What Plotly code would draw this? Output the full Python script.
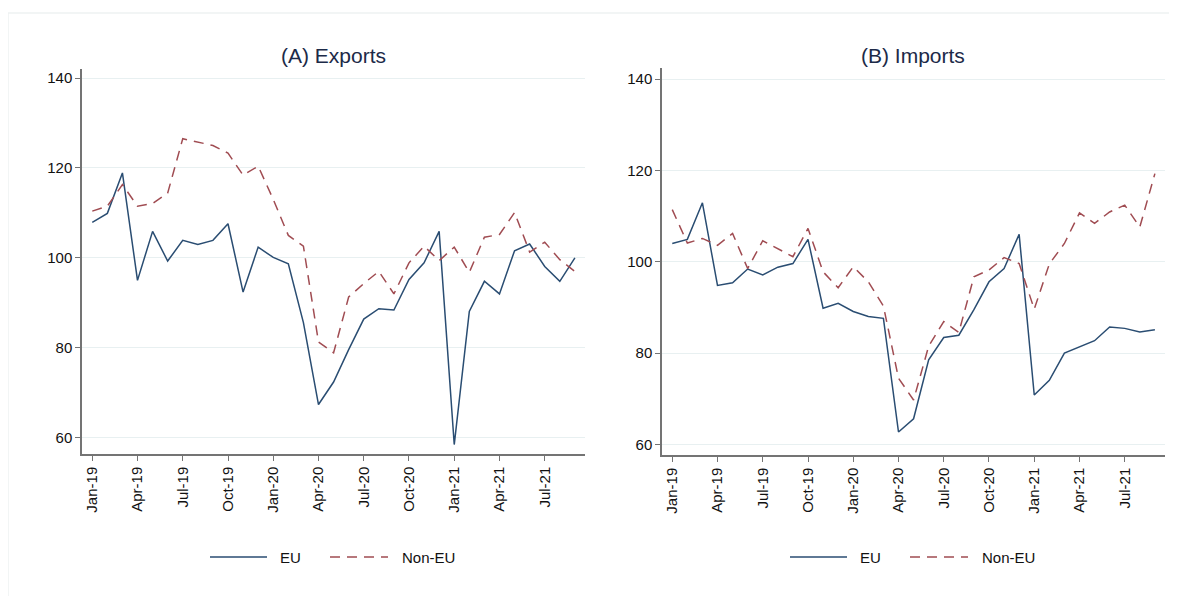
import plotly.graph_objects as go

months = ["Jan-19", "Feb-19", "Mar-19", "Apr-19", "May-19", "Jun-19", "Jul-19", "Aug-19", "Sep-19",
          "Oct-19", "Nov-19", "Dec-19", "Jan-20", "Feb-20", "Mar-20", "Apr-20", "May-20", "Jun-20",
          "Jul-20", "Aug-20", "Sep-20", "Oct-20", "Nov-20", "Dec-20", "Jan-21", "Feb-21", "Mar-21",
          "Apr-21", "May-21", "Jun-21", "Jul-21", "Aug-21", "Sep-21"]

exports_eu = [107.9, 109.9, 118.9, 95.0, 105.9, 99.3, 103.9, 103.0, 103.9, 107.6, 92.4, 102.4,
              100.1, 98.7, 85.6, 67.4, 72.4, 79.6, 86.4, 88.7, 88.4, 95.2, 98.9, 105.9,
              58.5, 88.1, 94.8, 92.0, 101.6, 103.1, 98.1, 94.8, 100.0]
exports_noneu = [110.4, 111.5, 116.3, 111.5, 112.1, 114.4, 126.5, 125.7, 125.0, 123.3, 118.4, 120.4,
                 113.0, 105.0, 102.6, 81.3, 78.9, 91.3, 94.3, 97.0, 92.0, 98.9, 102.6, 99.4,
                 102.4, 96.8, 104.6, 105.2, 110.1, 101.3, 103.5, 99.6, 97.0]
imports_eu = [104.0, 104.9, 112.9, 94.8, 95.4, 98.4, 97.1, 98.8, 99.6, 104.9, 89.8, 90.9,
              89.1, 88.0, 87.6, 62.7, 65.6, 78.5, 83.4, 83.9, 89.5, 95.6, 98.5, 106.0,
              70.8, 74.0, 80.0, 81.3, 82.7, 85.7, 85.4, 84.6, 85.1]
imports_noneu = [111.4, 104.1, 105.1, 103.6, 106.2, 98.5, 104.6, 102.9, 101.1, 107.3, 97.8, 94.3,
                 98.9, 95.6, 90.3, 74.5, 69.7, 81.5, 86.9, 84.5, 96.7, 98.2, 100.9, 99.6,
                 89.6, 99.5, 104.0, 110.7, 108.4, 110.9, 112.4, 107.6, 119.3]

series_names = ["EU", "Non-EU"]
y_ticks = [60, 80, 100, 120, 140]
x_idx = list(range(len(months)))
tick_idx = x_idx[::3]
tick_lab = months[::3]

EU_COLOR = "#2a4d72"
NONEU_COLOR = "#a04c52"
DASH = "10px,7px"
FONT = "Liberation Sans, Arial, sans-serif"

# page body has an 8px margin; figure placed at (8,8)
OFF = 8
W, H = 1169, 588
def px(x):
    return (x - OFF) / W
def py(y):
    return 1 - (y - OFF) / H

fig = go.Figure()

def add_pair(eu, noneu, xa, ya):
    fig.add_trace(go.Scatter(x=x_idx, y=eu, mode="lines", name=series_names[0],
                             line=dict(color=EU_COLOR, width=1.5),
                             xaxis=xa, yaxis=ya, showlegend=False))
    fig.add_trace(go.Scatter(x=x_idx, y=noneu, mode="lines", name=series_names[1],
                             line=dict(color=NONEU_COLOR, width=1.5, dash=DASH),
                             xaxis=xa, yaxis=ya, showlegend=False))

add_pair(exports_eu, exports_noneu, "x", "y")
add_pair(imports_eu, imports_noneu, "x2", "y2")

axis_common = dict(showline=True, linecolor="#747474", linewidth=1.5, ticks="outside",
                   ticklen=5, tickwidth=1.3, tickcolor="#747474", zeroline=False,
                   tickfont=dict(family=FONT, size=15, color="#111111"))

xcommon = dict(axis_common, tickvals=tick_idx, ticktext=tick_lab, tickangle=-90,
               range=[-0.68, 32.67], showgrid=False)
ycommon = dict(axis_common, tickvals=y_ticks, showgrid=True, gridcolor="#e8f0f1", gridwidth=1)

shapes = [
    dict(type="rect", xref="paper", yref="paper", x0=px(8), x1=1.01, y0=-0.01, y1=py(13),
         line=dict(color="#eef2f2", width=1.5), fillcolor="rgba(0,0,0,0)", layer="below"),
]
annotations = []
for cx, title in [(333, "(A) Exports"), (913, "(B) Imports")]:
    annotations.append(dict(text=title, x=px(cx), y=py(55), xref="paper", yref="paper",
                            showarrow=False, xanchor="center", yanchor="middle",
                            font=dict(family=FONT, size=21, color="#1c2a48")))
    ly = py(557)
    shapes.append(dict(type="line", xref="paper", yref="paper", x0=px(cx - 123), x1=px(cx - 66),
                       y0=ly, y1=ly, line=dict(color=EU_COLOR, width=1.5)))
    shapes.append(dict(type="line", xref="paper", yref="paper", x0=px(cx - 3), x1=px(cx + 55),
                       y0=ly, y1=ly, line=dict(color=NONEU_COLOR, width=1.5, dash=DASH)))
    annotations.append(dict(text=series_names[0], x=px(cx - 55), y=ly, xref="paper", yref="paper",
                            showarrow=False, xanchor="left", yanchor="middle",
                            font=dict(family=FONT, size=15, color="#111111")))
    annotations.append(dict(text=series_names[1], x=px(cx + 67), y=ly, xref="paper", yref="paper",
                            showarrow=False, xanchor="left", yanchor="middle",
                            font=dict(family=FONT, size=15, color="#111111")))

fig.update_layout(
    width=W, height=H,
    margin=dict(l=0, r=0, t=0, b=0),
    paper_bgcolor="white", plot_bgcolor="white",
    font=dict(family=FONT, color="#111111"),
    showlegend=False,
    xaxis=dict(xcommon, domain=[px(82), px(585)], anchor="y"),
    yaxis=dict(ycommon, domain=[py(454), py(69)], range=[56.4, 142.0], anchor="x"),
    xaxis2=dict(xcommon, domain=[px(662), px(1165)], anchor="y2"),
    yaxis2=dict(ycommon, domain=[py(455), py(68.3)], range=[57.66, 142.37], anchor="x2"),
    annotations=annotations,
    shapes=shapes,
)

fig.write_html("out.html")
